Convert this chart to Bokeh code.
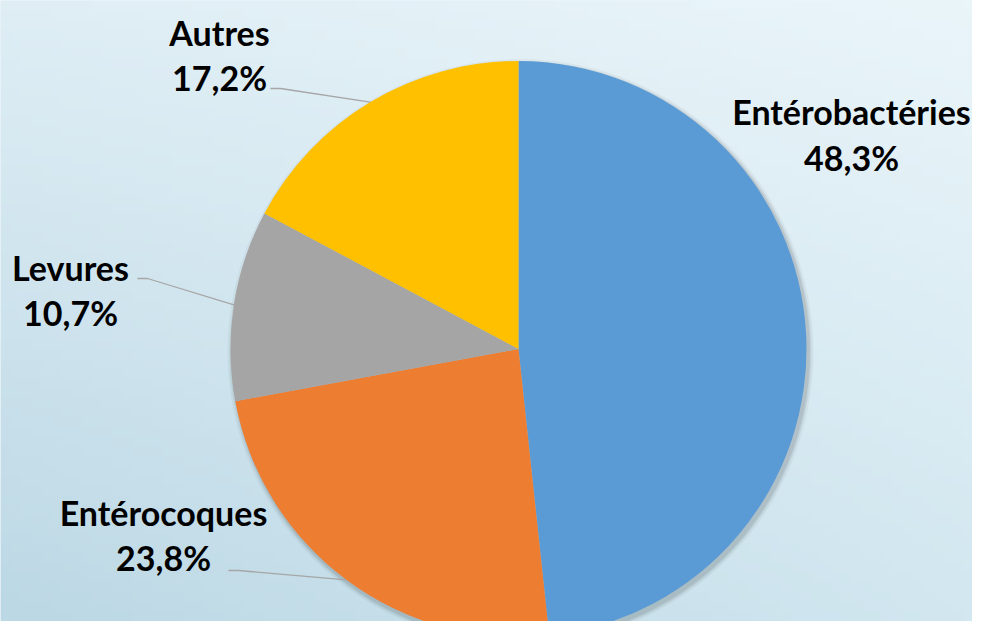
import numpy as np
from bokeh.plotting import figure
from bokeh.models import Range1d, ColumnDataSource
from bokeh.core.properties import value
from bokeh.embed import file_html
from bokeh.resources import INLINE

# ---- data ----
categories = ["Entérobactéries", "Entérocoques", "Levures", "Autres"]
percents = [48.3, 23.8, 10.7, 17.2]
pct_labels = ["48,3%", "23,8%", "10,7%", "17,2%"]
colors = ["#5B9BD5", "#ED7D31", "#A5A5A5", "#FFC000"]

# ---- layout (picture pixel coordinates; data y = H - Y) ----
W, H = 972, 621
CX, CY, R = 518, H - 348.5, 288
label_x = [851, 163, 70, 219]
name_base = [111, 512, 267, 32]
pct_base = [157, 557, 312, 77]
leader_start = [None, (228, 570), (137, 278), (270, 88)]

p = figure(width=W, height=H, output_backend="svg", toolbar_location=None,
           x_range=Range1d(0, W), y_range=Range1d(0, H),
           x_axis_type=None, y_axis_type=None, min_border=0)
p.grid.visible = False
p.outline_line_color = None
p.background_fill_color = "#D8EBF3"
p.border_fill_color = "#D8EBF3"

# background gradient
ny, nx = 64, 96
yy, xx = np.mgrid[0:ny, 0:nx]
u = xx / (nx - 1)
v = yy / (ny - 1)  # 0 bottom, 1 top
tl = np.array([0xDF, 0xEE, 0xF5]); tr = np.array([0xEA, 0xF5, 0xFA])
bl = np.array([0xBC, 0xD8, 0xE5]); br = np.array([0xD2, 0xE7, 0xF0])
col = (tl[None, None, :] * ((1 - u) * v)[..., None] + tr[None, None, :] * (u * v)[..., None]
       + bl[None, None, :] * ((1 - u) * (1 - v))[..., None] + br[None, None, :] * (u * (1 - v))[..., None])
img = np.zeros((ny, nx), dtype=np.uint32)
view = img.view(dtype=np.uint8).reshape((ny, nx, 4))
view[..., 0] = col[..., 0].astype(np.uint8)
view[..., 1] = col[..., 1].astype(np.uint8)
view[..., 2] = col[..., 2].astype(np.uint8)
view[..., 3] = 255
p.image_rgba(image=[img], x=0, y=0, dw=W, dh=H)

# soft shadow
for dr, a in [(5, 0.04), (3, 0.06), (1.5, 0.08)]:
    p.circle(x=[CX + 2], y=[CY - 3], radius=R + dr, fill_color="black",
             fill_alpha=a, line_color=None)

# wedges
fr = np.array(percents) / sum(percents)
cum = np.concatenate([[0], np.cumsum(fr)])
start = np.pi / 2 - cum[:-1] * 2 * np.pi
end = np.pi / 2 - cum[1:] * 2 * np.pi
src = ColumnDataSource(dict(start=start, end=end, color=colors))
p.wedge(x=CX, y=CY, radius=R, start_angle="start", end_angle="end",
        direction="clock", fill_color="color", line_color=None, source=src)

# leader lines
mid = (start + end) / 2
for i, ls in enumerate(leader_start):
    if ls is None:
        continue
    ex = CX + R * np.cos(mid[i])
    ey = CY + R * np.sin(mid[i])
    sx, sy = ls
    p.line(x=[sx, sx + 10, ex], y=[H - sy, H - sy, ey],
           line_color="#A6A6A6", line_width=1.3)

# labels
font = value("Lato")
p.text(x=label_x, y=[H - b for b in name_base], text=categories,
       text_font=font, text_font_style="bold", text_font_size="34px",
       text_align="center", text_baseline="alphabetic", text_color="#000000")
p.text(x=label_x, y=[H - b for b in pct_base], text=pct_labels,
       text_font=font, text_font_style="bold", text_font_size="34px",
       text_align="center", text_baseline="alphabetic", text_color="#000000")

open("out.html", "w").write(file_html(p, INLINE))
